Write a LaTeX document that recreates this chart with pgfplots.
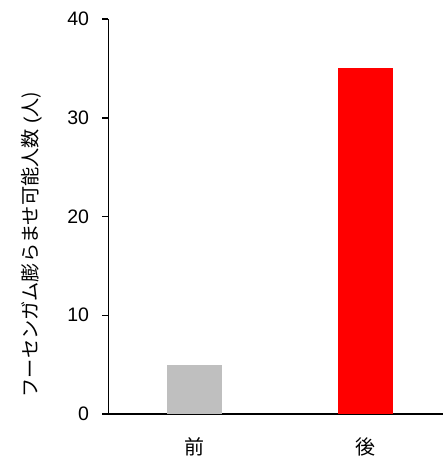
\documentclass[border=0pt]{standalone}
\usepackage{fontspec}
\setmainfont{Liberation Sans}
\newfontfamily\cjk{Noto Sans CJK JP}
\usepackage{pgfplots}
\pgfplotsset{compat=1.18}
\begin{document}
\begin{tikzpicture}
\begin{axis}[
    at={(0,0)}, anchor=south west,
    scale only axis,
    width=334.5pt, height=395pt,
    xmin=-0.5, xmax=1.45,
    ymin=0, ymax=40,
    axis x line*=bottom,
    axis y line*=left,
    axis line style={line width=1.5pt, black},
    ytick={0,10,20,30,40},
    xtick={0,1},
    xticklabels={{\cjk 前},{\cjk 後}},
    xtick style={draw=none},
    ytick style={line width=1.5pt, black},
    tick align=outside,
    major tick length=6pt,
    tick label style={font=\fontsize{19.5}{23}\selectfont},
    /pgf/number format/assume math mode=true,
    xticklabel style={font=\fontsize{20}{24}\selectfont, yshift=-14pt},
    yticklabel style={xshift=-10pt},
    ylabel={{\cjk フーセンガム膨らませ可能人数} (\cjk 人)},
    ylabel style={font=\fontsize{19.2}{23}\selectfont, at={(rel axis cs:-0.230,0.429)}, anchor=center},
    ybar, bar width=55pt, bar shift=0pt,
]
\addplot[fill={rgb,255:red,191;green,191;blue,191}, draw=none] coordinates {(0,5)};
\addplot[fill=red, draw=none] coordinates {(1,35)};
\end{axis}
\pgfresetboundingbox
\useasboundingbox (-108.5pt,-44pt) rectangle (334.5pt,414pt);
\end{tikzpicture}
\end{document}
